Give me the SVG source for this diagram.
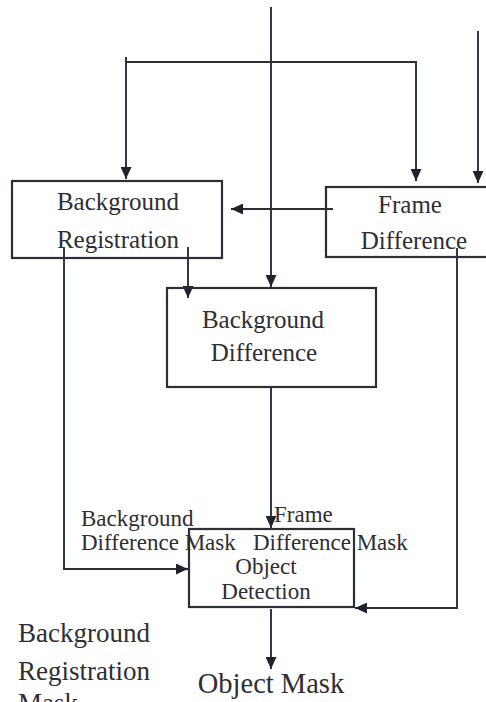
<svg xmlns="http://www.w3.org/2000/svg" width="486" height="702" viewBox="0 0 486 702">
<style>
.box{fill:none;stroke:#2b2f38;stroke-width:2.2}
.ln{fill:none;stroke:#2b2f38;stroke-width:1.9}
text{font-family:"Liberation Serif","Times New Roman",serif;fill:#2e2e33}
.t25{font-size:25px}
.t23{font-size:23px}
.t27{font-size:27px}
</style>
<defs>
<marker id="ah" viewBox="0 0 12 11" refX="12" refY="5.5" markerWidth="12" markerHeight="11" markerUnits="userSpaceOnUse" orient="auto">
<path d="M0,0 L12,5.5 L0,11 Z" fill="#1f232b"/>
</marker>
</defs>
<rect width="486" height="702" fill="#ffffff"/>
<g id="connectors">
<line class="ln" x1="271" y1="7" x2="271" y2="287" marker-end="url(#ah)"/>
<polyline class="ln" points="126,57 126,62 416,62 416,181" marker-end="url(#ah)"/>
<line class="ln" x1="126" y1="62" x2="126" y2="179" marker-end="url(#ah)"/>
<line class="ln" x1="478" y1="31" x2="478" y2="183" marker-end="url(#ah)"/>
<line class="ln" x1="333" y1="209" x2="231" y2="209" marker-end="url(#ah)"/>
<line class="ln" x1="188" y1="247" x2="188" y2="298" marker-end="url(#ah)"/>
<polyline class="ln" points="64,247 64,569 188,569" marker-end="url(#ah)"/>
<polyline class="ln" points="457,248 457,608 355,608" marker-end="url(#ah)"/>
<line class="ln" x1="271" y1="387" x2="271" y2="528" marker-end="url(#ah)"/>
<line class="ln" x1="271" y1="609" x2="271" y2="669" marker-end="url(#ah)"/>
</g>
<g id="background-registration">
<rect class="box" x="12" y="181" width="210" height="77"/>
<text class="t25" x="118" y="210" text-anchor="middle">Background</text>
<text class="t25" x="118" y="248" text-anchor="middle">Registration</text>
</g>
<g id="frame-difference">
<rect class="box" x="326" y="187" width="170" height="70"/>
<text class="t25" x="410" y="213" text-anchor="middle">Frame</text>
<text class="t25" x="414" y="249" text-anchor="middle">Difference</text>
</g>
<g id="background-difference">
<rect class="box" x="167" y="288" width="209" height="99"/>
<text class="t25" x="263" y="328" text-anchor="middle">Background</text>
<text class="t25" x="264" y="361" text-anchor="middle">Difference</text>
</g>
<g id="object-detection">
<rect class="box" x="189" y="529" width="165" height="78"/>
<text class="t23" x="266" y="574" text-anchor="middle">Object</text>
<text class="t23" x="266" y="599" text-anchor="middle">Detection</text>
</g>
<g id="labels">
<text class="t23" x="81" y="526">Background</text>
<text class="t23" x="81" y="550">Difference Mask</text>
<text class="t23" x="274" y="522">Frame</text>
<text class="t23" x="253" y="550">Difference Mask</text>
<text class="t27" x="18" y="642">Background</text>
<text class="t27" x="18" y="680">Registration</text>
<text class="t27" x="18" y="712">Mask</text>
<text x="271" y="693" text-anchor="middle" font-size="28.5">Object Mask</text>
</g>
</svg>
